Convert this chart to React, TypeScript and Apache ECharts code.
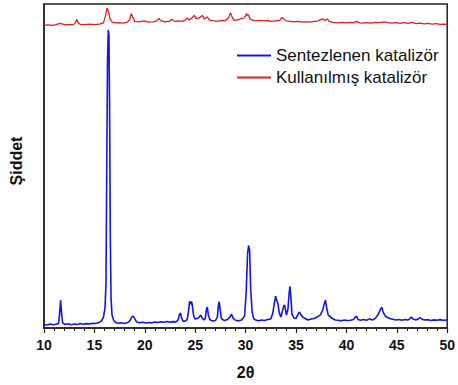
import React, { useEffect, useRef } from "react";
import * as echarts from "echarts";

// Series names (legend)
const seriesNames = ["Sentezlenen katalizör", "Kullanılmış katalizör"];

// X axis tick settings (2θ)
const xMin = 10;
const xMax = 50;
const xInterval = 5;

// Synthesized catalyst pattern: [2θ, intensity]
const sentezlenen: [number, number][] = [
  [10.0, 35], [10.3, 30], [10.6, 40], [10.9, 32], [11.2, 38], [11.45, 45],
  [11.55, 150], [11.65, 280], [11.75, 140], [11.85, 50], [12.1, 35], [12.4, 42],
  [12.7, 33], [13.0, 40], [13.3, 36], [13.6, 45], [13.9, 38], [14.2, 44],
  [14.5, 40], [14.8, 48], [15.1, 45], [15.4, 52], [15.7, 70], [15.9, 110],
  [16.05, 200], [16.15, 450], [16.22, 1500], [16.3, 2700], [16.38, 3000],
  [16.44, 2950], [16.5, 2300], [16.58, 900], [16.65, 300], [16.75, 130],
  [16.9, 80], [17.1, 55], [17.4, 48], [17.7, 52], [18.0, 46], [18.3, 55],
  [18.55, 75], [18.7, 110], [18.85, 120], [19.0, 95], [19.2, 60], [19.5, 52],
  [19.8, 58], [20.1, 50], [20.4, 56], [20.7, 52], [21.0, 60], [21.3, 55],
  [21.6, 62], [21.9, 57], [22.2, 66], [22.5, 58], [22.8, 64], [23.1, 62],
  [23.3, 80], [23.45, 140], [23.55, 150], [23.65, 100], [23.8, 65], [24.0, 70],
  [24.2, 85], [24.35, 180], [24.45, 270], [24.55, 240], [24.65, 265],
  [24.75, 200], [24.85, 120], [25.0, 90], [25.2, 95], [25.4, 110], [25.55, 130],
  [25.7, 100], [25.85, 80], [26.0, 95], [26.1, 180], [26.2, 210], [26.3, 130],
  [26.45, 85], [26.7, 70], [27.0, 75], [27.2, 110], [27.3, 230], [27.38, 265],
  [27.48, 180], [27.6, 95], [27.9, 75], [28.2, 85], [28.45, 110], [28.6, 140],
  [28.75, 100], [29.0, 78], [29.3, 72], [29.6, 80], [29.9, 120], [30.05, 350],
  [30.2, 750], [30.3, 830], [30.4, 780], [30.5, 400], [30.65, 160], [30.8, 95],
  [31.0, 80], [31.3, 72], [31.6, 80], [31.9, 75], [32.2, 85], [32.5, 90],
  [32.7, 150], [32.85, 250], [32.98, 320], [33.1, 270], [33.2, 250],
  [33.35, 150], [33.5, 110], [33.65, 170], [33.8, 230], [33.9, 220],
  [34.05, 130], [34.2, 190], [34.32, 350], [34.4, 420], [34.5, 300],
  [34.6, 140], [34.8, 100], [35.0, 95], [35.2, 140], [35.35, 160], [35.5, 130],
  [35.7, 110], [35.9, 95], [36.2, 80], [36.5, 90], [36.8, 95], [37.1, 110],
  [37.4, 130], [37.65, 180], [37.82, 250], [37.92, 280], [38.05, 200],
  [38.2, 130], [38.4, 115], [38.6, 95], [38.9, 80], [39.2, 78], [39.5, 72],
  [39.8, 80], [40.1, 75], [40.4, 78], [40.7, 85], [40.9, 110], [41.0, 120],
  [41.15, 85], [41.4, 78], [41.7, 85], [42.0, 78], [42.3, 92], [42.6, 80],
  [42.9, 100], [43.1, 130], [43.3, 170], [43.5, 210], [43.65, 160],
  [43.85, 120], [44.0, 110], [44.3, 95], [44.6, 88], [44.9, 80], [45.2, 85],
  [45.5, 78], [45.8, 86], [46.1, 80], [46.3, 95], [46.45, 110], [46.6, 90],
  [46.9, 80], [47.1, 90], [47.3, 105], [47.5, 88], [47.8, 80], [48.1, 84],
  [48.4, 76], [48.7, 82], [49.0, 78], [49.3, 84], [49.6, 78], [50.0, 80],
];

// Used catalyst pattern (offset upward): [2θ, intensity]
const kullanilmis: [number, number][] = [
  [10.0, 3045], [10.4, 3050], [10.8, 3045], [11.2, 3052], [11.6, 3065],
  [11.8, 3060], [12.1, 3050], [12.5, 3055], [12.9, 3050], [13.1, 3070],
  [13.25, 3105], [13.4, 3070], [13.6, 3055], [14.0, 3052], [14.5, 3057],
  [15.0, 3052], [15.5, 3057], [15.9, 3070], [16.1, 3140], [16.25, 3220],
  [16.4, 3180], [16.55, 3110], [16.75, 3080], [17.0, 3070], [17.4, 3072],
  [17.8, 3068], [18.2, 3075], [18.5, 3100], [18.65, 3163], [18.8, 3130],
  [19.0, 3085], [19.4, 3080], [19.9, 3090], [20.3, 3077], [20.8, 3080],
  [21.2, 3090], [21.4, 3115], [21.6, 3090], [22.0, 3080], [22.4, 3085],
  [22.7, 3105], [22.9, 3085], [23.3, 3090], [23.7, 3085], [24.0, 3095],
  [24.2, 3120], [24.4, 3100], [24.7, 3120], [24.9, 3145], [25.1, 3110],
  [25.4, 3120], [25.7, 3145], [25.9, 3110], [26.2, 3130], [26.4, 3100],
  [26.8, 3090], [27.2, 3085], [27.6, 3095], [28.0, 3092], [28.3, 3120],
  [28.5, 3170], [28.7, 3120], [28.9, 3095], [29.2, 3100], [29.5, 3110],
  [29.8, 3115], [30.0, 3140], [30.1, 3165], [30.2, 3140], [30.3, 3150],
  [30.45, 3110], [30.7, 3097], [31.0, 3090], [31.4, 3095], [31.8, 3090],
  [32.2, 3092], [32.6, 3085], [33.0, 3090], [33.4, 3095], [33.6, 3125],
  [33.8, 3110], [34.0, 3090], [34.4, 3085], [34.8, 3080], [35.2, 3085],
  [35.6, 3077], [36.0, 3082], [36.4, 3077], [36.8, 3085], [37.2, 3090],
  [37.5, 3105], [37.7, 3110], [37.9, 3090], [38.1, 3110], [38.3, 3085],
  [38.7, 3075], [39.1, 3070], [39.5, 3075], [39.9, 3070], [40.3, 3075],
  [40.7, 3070], [41.0, 3085], [41.3, 3070], [41.7, 3068], [42.1, 3073],
  [42.5, 3068], [42.9, 3075], [43.3, 3072], [43.7, 3080], [44.1, 3072],
  [44.5, 3067], [44.9, 3072], [45.3, 3065], [45.7, 3072], [46.1, 3065],
  [46.5, 3075], [46.9, 3062], [47.3, 3068], [47.7, 3060], [48.1, 3065],
  [48.5, 3058], [48.9, 3062], [49.3, 3055], [49.7, 3058], [50.0, 3055],
];

const yMin = 0;
const yMax = 3260;

export default function App() {
  const ref = useRef<HTMLDivElement>(null);

  useEffect(() => {
    if (!ref.current) return;
    const chart = echarts.init(ref.current, null, { renderer: "svg" });
    const font = "'Liberation Sans', Arial, sans-serif";
    chart.setOption({
      animation: false,
      backgroundColor: "#ffffff",
      grid: {
        left: 43,
        right: 10,
        top: 4,
        bottom: 55,
        show: true,
        borderColor: "#222222",
        borderWidth: 1.5,
      },
      legend: {
        orient: "vertical",
        left: 232,
        top: 42,
        itemWidth: 34,
        itemHeight: 2,
        itemGap: 5,
        icon: "rect",
        data: seriesNames,
        textStyle: {
          fontFamily: font,
          fontSize: 17,
          color: "#111111",
        },
      },
      xAxis: {
        type: "value",
        min: xMin,
        max: xMax,
        interval: xInterval,
        name: "2θ",
        nameLocation: "middle",
        nameGap: 36,
        nameTextStyle: {
          fontFamily: font,
          fontSize: 16,
          fontWeight: "bold",
          color: "#111111",
        },
        axisLine: { show: true, lineStyle: { color: "#222222", width: 1.5 } },
        axisTick: { show: true, inside: false, length: 5, lineStyle: { color: "#222222", width: 1.2 } },
        minorTick: { show: true, splitNumber: 5, length: 3, lineStyle: { color: "#222222", width: 1 } },
        splitLine: { show: false },
        axisLabel: {
          margin: 10,
          fontFamily: font,
          fontSize: 14,
          fontWeight: "bold",
          color: "#111111",
        },
      },
      yAxis: {
        type: "value",
        min: yMin,
        max: yMax,
        name: "Şiddet",
        nameLocation: "middle",
        nameGap: 20,
        nameRotate: 90,
        nameTextStyle: {
          fontFamily: font,
          fontSize: 16,
          fontWeight: "bold",
          color: "#111111",
          padding: [0, 0, 0, 10],
        },
        axisLine: { show: true, lineStyle: { color: "#222222", width: 1.5 } },
        axisTick: { show: false },
        axisLabel: { show: false },
        splitLine: { show: false },
      },
      series: [
        {
          name: seriesNames[0],
          type: "line",
          data: sentezlenen,
          showSymbol: false,
          symbol: "none",
          lineStyle: { color: "#1414e6", width: 1.6 },
          itemStyle: { color: "#1414e6" },
        },
        {
          name: seriesNames[1],
          type: "line",
          data: kullanilmis,
          showSymbol: false,
          symbol: "none",
          lineStyle: { color: "#e01e1e", width: 1.3 },
          itemStyle: { color: "#e01e1e" },
        },
      ],
    });
    return () => chart.dispose();
  }, []);

  return (
    <div
      ref={ref}
      style={{ position: "fixed", left: 0, top: 0, width: 458, height: 385 }}
    />
  );
}
